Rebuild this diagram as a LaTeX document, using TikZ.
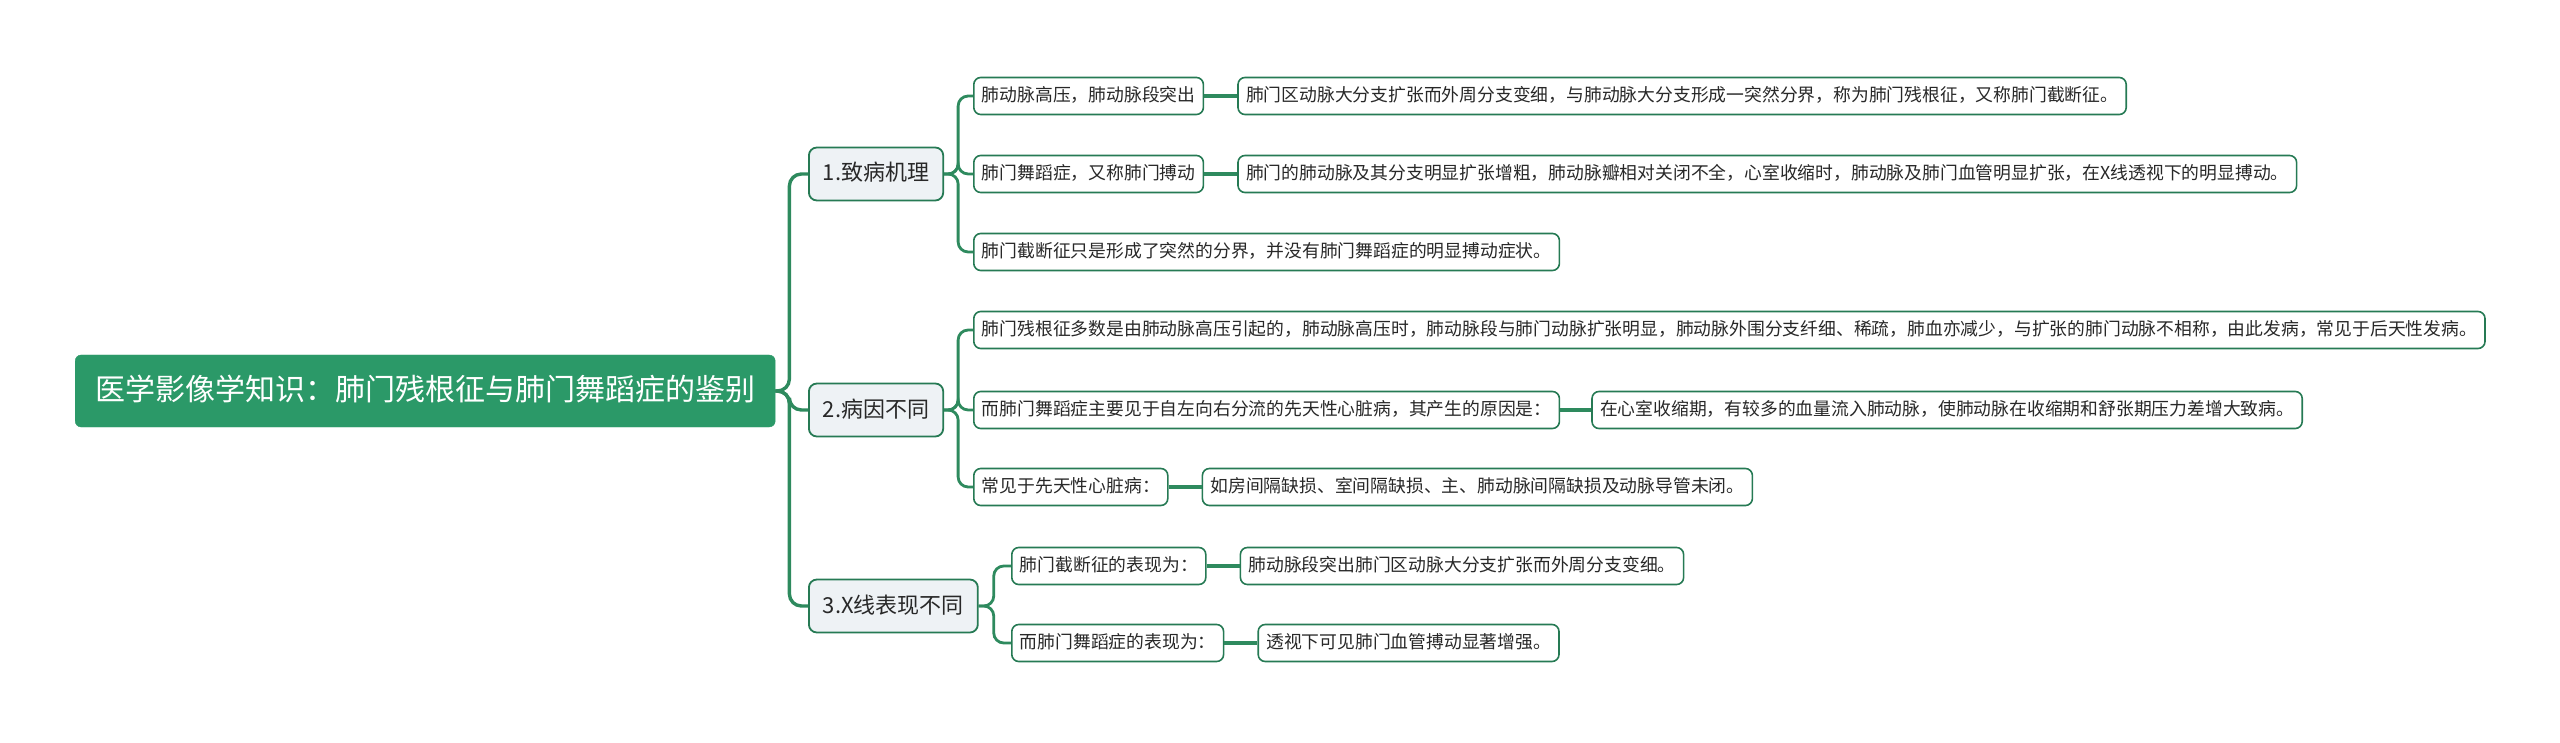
\documentclass[tikz,border=0pt]{standalone}
\usepackage{fontspec}
\newfontfamily\cjk{Noto Sans CJK SC}
\usetikzlibrary{positioning,calc}
\definecolor{rootfill}{RGB}{43,153,104}
\definecolor{linecol}{RGB}{46,138,94}
\definecolor{bordercol}{RGB}{38,122,84}
\definecolor{lvfill}{RGB}{238,242,245}
\definecolor{txt}{RGB}{40,40,40}
\tikzset{
  rootbox/.style={draw=rootfill, fill=rootfill, rounded corners=6pt, text=white,
    font=\cjk\fontsize{30}{36}\selectfont, inner xsep=20pt, inner ysep=0pt,
    minimum height=72pt, anchor=west, text height=24pt, text depth=5pt},
  lvbox/.style={draw=bordercol, line width=1.8pt, fill=lvfill, rounded corners=8pt, text=txt,
    font=\cjk\fontsize{22}{26}\selectfont, inner xsep=14pt, inner ysep=0pt,
    minimum height=53pt, anchor=west, text height=18pt, text depth=4pt},
  leafbox/.style={draw=bordercol, line width=1.6pt, fill=white, rounded corners=7pt, text=txt,
    font=\cjk\fontsize{17.8}{22}\selectfont, inner xsep=8pt, inner ysep=0pt,
    minimum height=37pt, anchor=west, text height=14.5pt, text depth=3.5pt},
  trunk/.style={draw=linecol, line width=3.4pt, rounded corners=12pt},
  branch/.style={draw=linecol, line width=2.8pt, rounded corners=10pt},
  link/.style={draw=linecol, line width=3.2pt},
}
\begin{document}
\begin{tikzpicture}[x=1pt,y=-1pt]
\useasboundingbox (0,0) rectangle (2560,743);

\node[rootbox] (root) at (75,391) {医学影像学知识：肺门残根征与肺门舞蹈症的鉴别};

\node[lvbox] (L1) at (808,174) {1.致病机理};
\node[lvbox] (L2) at (808,410) {2.病因不同};
\node[lvbox] (L3) at (808,606) {3.X线表现不同};

\node[leafbox] (a1) at (973,96) {肺动脉高压，肺动脉段突出};
\node[leafbox] (a2) at (973,174) {肺门舞蹈症，又称肺门搏动};
\node[leafbox] (a3) at (973,252) {肺门截断征只是形成了突然的分界，并没有肺门舞蹈症的明显搏动症状。};
\node[leafbox, right=33pt of a1] (a1c) {肺门区动脉大分支扩张而外周分支变细，与肺动脉大分支形成一突然分界，称为肺门残根征，又称肺门截断征。};
\node[leafbox, right=33pt of a2] (a2c) {肺门的肺动脉及其分支明显扩张增粗，肺动脉瓣相对关闭不全，心室收缩时，肺动脉及肺门血管明显扩张，在X线透视下的明显搏动。};

\node[leafbox] (b1) at (973,330) {肺门残根征多数是由肺动脉高压引起的，肺动脉高压时，肺动脉段与肺门动脉扩张明显，肺动脉外围分支纤细、稀疏，肺血亦减少，与扩张的肺门动脉不相称，由此发病，常见于后天性发病。};
\node[leafbox] (b2) at (973,410) {而肺门舞蹈症主要见于自左向右分流的先天性心脏病，其产生的原因是：};
\node[leafbox] (b3) at (973,487) {常见于先天性心脏病：};
\node[leafbox, right=31pt of b2] (b2c) {在心室收缩期，有较多的血量流入肺动脉，使肺动脉在收缩期和舒张期压力差增大致病。};
\node[leafbox, right=33pt of b3] (b3c) {如房间隔缺损、室间隔缺损、主、肺动脉间隔缺损及动脉导管未闭。};

\node[leafbox] (c1) at (1011,566) {肺门截断征的表现为：};
\node[leafbox] (c2) at (1011,643) {而肺门舞蹈症的表现为：};
\node[leafbox, right=33pt of c1] (c1c) {肺动脉段突出肺门区动脉大分支扩张而外周分支变细。};
\node[leafbox, right=33pt of c2] (c2c) {透视下可见肺门血管搏动显著增强。};

\begin{scope}[on background layer/.try]
\foreach \t in {L1,L2,L3}
  \draw[trunk] (root.east) -- ++(14,0) |- (\t.west);
\foreach \t in {a1,a2,a3}
  \draw[branch] (L1.east) -- ++(14,0) |- (\t.west);
\foreach \t in {b1,b2,b3}
  \draw[branch] (L2.east) -- ++(14,0) |- (\t.west);
\foreach \t in {c1,c2}
  \draw[branch] (L3.east) -- ++(15,0) |- (\t.west);
\end{scope}
\draw[link] (a1) -- (a1c);
\draw[link] (a2) -- (a2c);
\draw[link] (b2) -- (b2c);
\draw[link] (b3) -- (b3c);
\draw[link] (c1) -- (c1c);
\draw[link] (c2) -- (c2c);
\end{tikzpicture}
\end{document}
